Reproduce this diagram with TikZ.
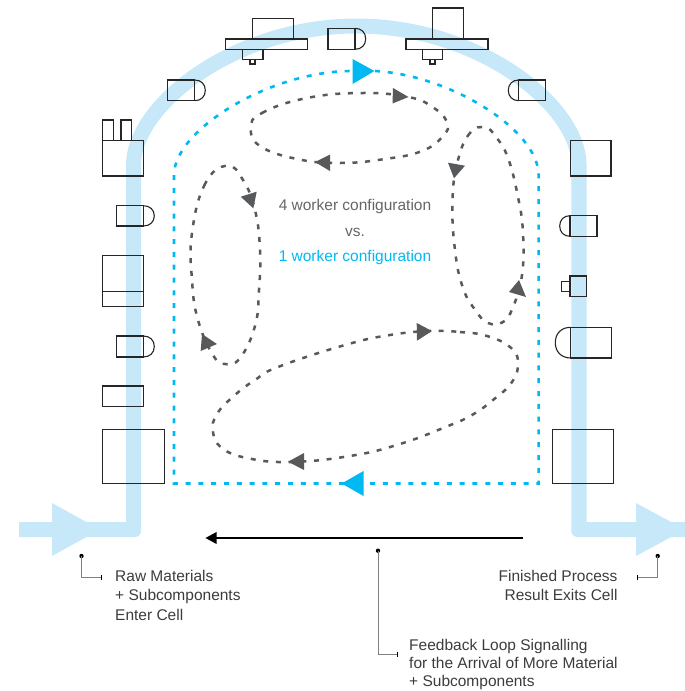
\documentclass[tikz,border=0pt]{standalone}
\usepackage{fontspec}
\setmainfont{Liberation Sans}
\definecolor{band}{HTML}{C7E8F9}
\definecolor{cyn}{HTML}{00B9F2}
\definecolor{loopc}{HTML}{58595B}
\definecolor{txt}{HTML}{3C3C3C}
\definecolor{grytxt}{HTML}{666666}
\definecolor{ldr}{HTML}{808080}
\tikzset{
  mach/.style={draw=black!85,line width=1.1pt},
  cyandash/.style={draw=cyn,line width=2.6pt,dash pattern=on 5pt off 7.8pt},
  loopdash/.style={draw=loopc,line width=2.5pt,dash pattern=on 5pt off 7.7pt},
  lbl/.style={font=\fontsize{15.5pt}{19.1pt}\selectfont,text=txt,inner sep=0pt},
  lbltight/.style={font=\fontsize{15.5pt}{18.4pt}\selectfont,text=txt,inner sep=0pt},
  mid/.style={font=\fontsize{15.5pt}{18pt}\selectfont,inner sep=0pt,anchor=base},
  leader/.style={draw=ldr,line width=1pt},
  dotm/.style={circle,fill=black,inner sep=0pt,minimum size=4.4pt},
}
\newcommand{\dshape}[6]{% x1 x2 y1 y2 flatx bulgex : rect then bulge
  \draw[mach] (#1,#3) rectangle (#2,#4);
  \draw[mach] (#5,#3) .. controls ({#5+0.6*(#6-#5)},#3) and (#6,{#3+0.2*(#4-#3)}) .. (#6,{0.5*(#3+#4)})
     .. controls (#6,{#3+0.8*(#4-#3)}) and ({#5+0.6*(#6-#5)},#4) .. (#5,#4);
}
\begin{document}
\begin{tikzpicture}[x=1pt,y=-1pt]
\useasboundingbox (0,0) rectangle (685,691);
% material flow band
\draw[band,line width=15pt] (133.5,165) .. controls (133.5,105) and (235,26) .. (356.5,26) .. controls (478,26) and (579,105) .. (579,165);
\fill[band] (19,522) -- (126,522) -- (126,163) -- (141,163) [rounded corners=6pt] -- (141,537) [sharp corners] -- (19,537) -- cycle;
\fill[band] (685,522) -- (586.7,522) -- (586.7,163) -- (571.3,163) [rounded corners=6pt] -- (571.3,537) [sharp corners] -- (685,537) -- cycle;
\fill[band] (52,503) -- (100,529.5) -- (52,556) -- cycle;
\fill[band] (636,503) -- (685,529.5) -- (636,556) -- cycle;
% one-worker path
\draw[cyandash] (357,483.5) -- (174,483.5) -- (174,175) .. controls (174,130) and (270,71) .. (352,71);
\draw[cyandash] (375,71) .. controls (450,75) and (538.6,130) .. (538.6,175) -- (538.6,483.5) -- (363,483.5);
\fill[cyn] (352.6,59) -- (374.5,71) -- (352.6,84) -- cycle;
\fill[cyn] (341.7,483.5) -- (363.5,471) -- (363.5,496) -- cycle;
% four-worker loops
\draw[loopdash] plot[smooth cycle,tension=0.75] coordinates {(251,128) (262,113) (307,98) (363,93) (408,97) (431,106) (447,122) (443,136) (422,151) (385,159) (340,163) (297,159) (260,146)};
\draw[loopdash] plot[smooth cycle,tension=0.75] coordinates {(227,165.7) (205,184) (192,233) (192,280) (198,320) (213,355) (225,364) (240,358) (255,326) (259,290) (260,250) (255,210) (243,180)};
\draw[loopdash] plot[smooth cycle,tension=0.75] coordinates {(485,127.5) (470,133) (458,160) (452.5,200) (455,250) (463,288) (476,311) (488,323) (503,322) (513,307) (522,275) (523,233) (518,197) (508,158) (496,137)};
\draw[loopdash] plot[smooth cycle,tension=0.75] coordinates {(430,331) (460,332) (487,336) (510,347) (518,362) (512,382) (493,400) (472,415) (448,426) (400,444) (350,456) (290,462) (247,458) (222,448) (213,432) (217,414) (235,395) (255,380) (278,367) (345,345) (390,335)};
\fill[loopc] (393,88) -- (408.5,97) -- (392.5,103.5) -- cycle;
\fill[loopc] (315,162) -- (330,154.5) -- (330,171) -- cycle;
\fill[loopc] (240.7,196.7) -- (256.7,191.7) -- (253.3,208.3) -- cycle;
\fill[loopc] (202,334) -- (217,344) -- (200.7,351) -- cycle;
\fill[loopc] (448,162.7) -- (465,165.7) -- (454,178.3) -- cycle;
\fill[loopc] (519,280) -- (526,297) -- (509,292) -- cycle;
\fill[loopc] (416.7,323) -- (432,331) -- (417,340.7) -- cycle;
\fill[loopc] (288,461.7) -- (304,453) -- (304,470) -- cycle;
% left column
\draw[mach] (102.7,140.7) rectangle (143.5,176);
\draw[mach] (102.7,140.7) -- (102.7,120) -- (113.3,120) -- (113.3,140.7);
\draw[mach] (121,140.7) -- (121,120) -- (131.7,120) -- (131.7,140.7);
\dshape{116.7}{143.3}{205.7}{226}{143.3}{154.3}
\draw[mach] (102.7,255.3) rectangle (143.7,306.7);
\draw[mach] (102.7,291.7) -- (143.7,291.7);
\dshape{116.7}{143.3}{336}{357}{143.3}{154.3}
\draw[mach] (102.7,386) rectangle (143.7,406.7);
\draw[mach] (102.7,429.7) rectangle (164.3,483.3);
% top arch
\dshape{167.7}{194.7}{80}{100.7}{194.7}{205.3}
\draw[mach] (252.3,39) -- (252.3,18.3) -- (293.3,18.3) -- (293.3,39);
\draw[mach] (225.7,39) rectangle (307.7,49.3);
\draw[mach] (242.3,49.3) rectangle (263,59.3);
\draw[mach] (250,59.3) rectangle (255,64);
\dshape{328}{355}{28.3}{49.3}{355}{365.7}
\draw[mach] (432.3,39) -- (432.3,8) -- (463.3,8) -- (463.3,39);
\draw[mach] (406,39) rectangle (488,49.3);
\draw[mach] (422.3,49.3) rectangle (442.7,59.3);
\draw[mach] (430,59.3) rectangle (435,64);
\dshape{518.7}{545.7}{80}{100.7}{518.7}{508.3}
% right column
\draw[mach] (570.3,140.7) rectangle (611,176);
\dshape{570}{597}{215.7}{236.3}{570}{559.7}
\draw[mach] (570,276) rectangle (586.7,296.7);
\draw[mach] (561.3,281.3) rectangle (570,291.7);
\dshape{570.7}{611.3}{327.3}{358}{570.7}{555.3}
\draw[mach] (552.3,429.7) rectangle (613.7,483.3);
% feedback arrow
\coordinate (fbstart) at (523,538);
\coordinate (fbend) at (216,538);
\draw[black,line width=1.9pt] (fbstart) -- (fbend);
\fill[black] (205.5,538) -- (216.5,532) -- (216.5,544) -- cycle;
% centre text
\node[mid,text=grytxt] (t4) at (355,210.7) {4 worker configuration};
\node[mid,text=grytxt] (tvs) at (355,236.7) {vs.};
\node[mid,text=cyn] (t1) at (355,261.7) {1 worker configuration};
% labels
\node[lbl,anchor=north west,align=left] (raw) at (115,570.4) {Raw Materials\\+ Subcomponents\\Enter Cell};
\node[lbl,anchor=north east,align=right] (fin) at (617.7,570.4) {Finished Process\\Result Exits Cell};
\node[lbltight,anchor=north west,align=left] (fb) at (409,638.7) {Feedback Loop Signalling\\for the Arrival of More Material\\+ Subcomponents};
% leaders
\node[dotm] (d1) at (81.5,556) {};
\coordinate (e1) at (101.5,577);
\draw[leader] (d1.center) |- (e1);
\draw[black,line width=0.8pt] (101.5,574.5) -- (101.5,579.5);
\node[dotm] (d2) at (657.7,556) {};
\coordinate (e2) at (637.5,577);
\draw[leader] (d2.center) |- (e2);
\draw[black,line width=0.8pt] (637.5,574.5) -- (637.5,579.5);
\node[dotm] (d3) at (378,550.7) {};
\coordinate (e3) at (397.5,654);
\draw[leader] (d3.center) |- (e3);
\draw[black,line width=0.8pt] (397.5,651.5) -- (397.5,656.5);
\end{tikzpicture}
\end{document}
